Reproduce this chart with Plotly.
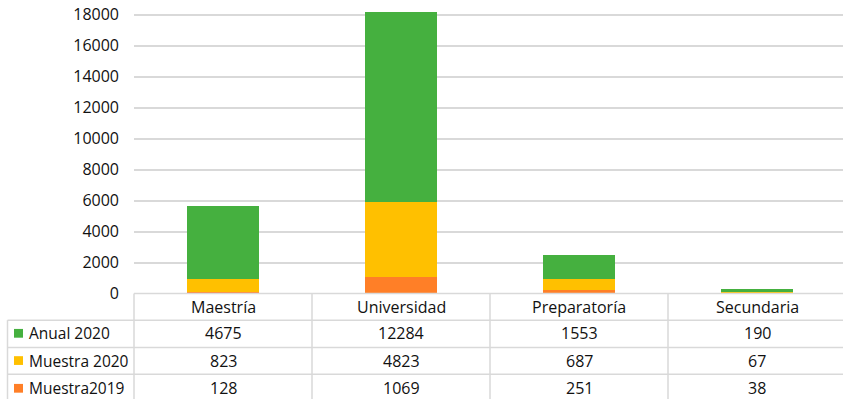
import plotly.graph_objects as go

categories = ["Maestría", "Universidad", "Preparatoría", "Secundaria"]
series_names = ["Anual 2020", "Muestra 2020", "Muestra2019"]
anual_2020 = [4675, 12284, 1553, 190]
muestra_2020 = [823, 4823, 687, 67]
muestra_2019 = [128, 1069, 251, 38]
series_values = [anual_2020, muestra_2020, muestra_2019]
series_colors = ["#45B03F", "#FFC000", "#FF7F27"]
y_ticks = [0, 2000, 4000, 6000, 8000, 10000, 12000, 14000, 16000, 18000]

W, H = 843, 410
FONT = "Open Sans"
GRID = "#d9d9d9"
TXT = "#111111"

def px(x):
    return x / W

def py(y):
    return 1 - y / H

fig = go.Figure()
# stack from bottom: Muestra2019, Muestra 2020, Anual 2020
for name, vals, col in reversed(list(zip(series_names, series_values, series_colors))):
    fig.add_trace(go.Bar(x=categories, y=vals, name=name, marker_color=col,
                         marker_line_width=0))

plot_bottom = 301.7
y0_top = 15.0
ymax = 18000 * plot_bottom / (plot_bottom - y0_top)

col_w = 178.0
x_left = 134.0
units = (W - x_left) / col_w

shapes = []
# table horizontal lines
row_lines = [plot_bottom, 329, 357, 384.5]
for i, yy in enumerate(row_lines):
    x0 = x_left if i == 0 else 7.5
    shapes.append(dict(type="line", xref="paper", yref="paper",
                       x0=px(x0), x1=1, y0=py(yy), y1=py(yy),
                       line=dict(color=GRID, width=1.5)))
# vertical lines
shapes.append(dict(type="line", xref="paper", yref="paper",
                   x0=px(7.5), x1=px(7.5), y0=py(329), y1=0,
                   line=dict(color=GRID, width=1.5)))
for k in range(len(categories)):
    xx = x_left + k * col_w
    shapes.append(dict(type="line", xref="paper", yref="paper",
                       x0=px(xx), x1=px(xx), y0=py(plot_bottom), y1=0,
                       line=dict(color=GRID, width=1.5)))

annotations = []
row_centers = [342.5, 370.5, 399]
for r, (name, vals, col) in enumerate(zip(series_names, series_values, series_colors)):
    yc = row_centers[r]
    shapes.append(dict(type="rect", xref="paper", yref="paper",
                       x0=px(14), x1=px(23), y0=py(yc - 4.5), y1=py(yc + 4.5),
                       fillcolor=col, line=dict(width=0)))
    annotations.append(dict(text=name, xref="paper", yref="paper", x=px(27), y=py(yc),
                            xanchor="left", yanchor="middle", showarrow=False,
                            font=dict(family=FONT, size=15.5, color=TXT)))
    for c, v in zip(categories, vals):
        annotations.append(dict(text=str(v), xref="x", yref="paper", x=c, y=py(yc),
                                xanchor="center", yanchor="middle", showarrow=False,
                                font=dict(family=FONT, size=16, color=TXT)))
for c in categories:
    annotations.append(dict(text=c, xref="x", yref="paper", x=c, y=py(315.5),
                            xanchor="center", yanchor="middle", showarrow=False,
                            font=dict(family=FONT, size=16, color=TXT)))

fig.update_layout(
    width=W, height=H, autosize=False,
    margin=dict(l=0, r=0, t=0, b=0, pad=0),
    paper_bgcolor="white", plot_bgcolor="white",
    barmode="stack", bargap=0.6, showlegend=False,
    font=dict(family=FONT, size=16, color=TXT),
    xaxis=dict(domain=[px(x_left), 1], range=[-0.5, units - 0.5],
               showticklabels=False, showgrid=False, zeroline=False, showline=False,
               fixedrange=True),
    yaxis=dict(domain=[py(plot_bottom), 1], range=[0, ymax],
               tickvals=y_ticks, ticktext=[str(t) for t in y_ticks],
               showgrid=True, gridcolor=GRID, gridwidth=1.5, zeroline=False,
               showline=False, ticks="", ticklabelstandoff=14,
               tickfont=dict(family=FONT, size=16, color=TXT), fixedrange=True),
    shapes=shapes, annotations=annotations,
)

fig.write_html("out.html")
